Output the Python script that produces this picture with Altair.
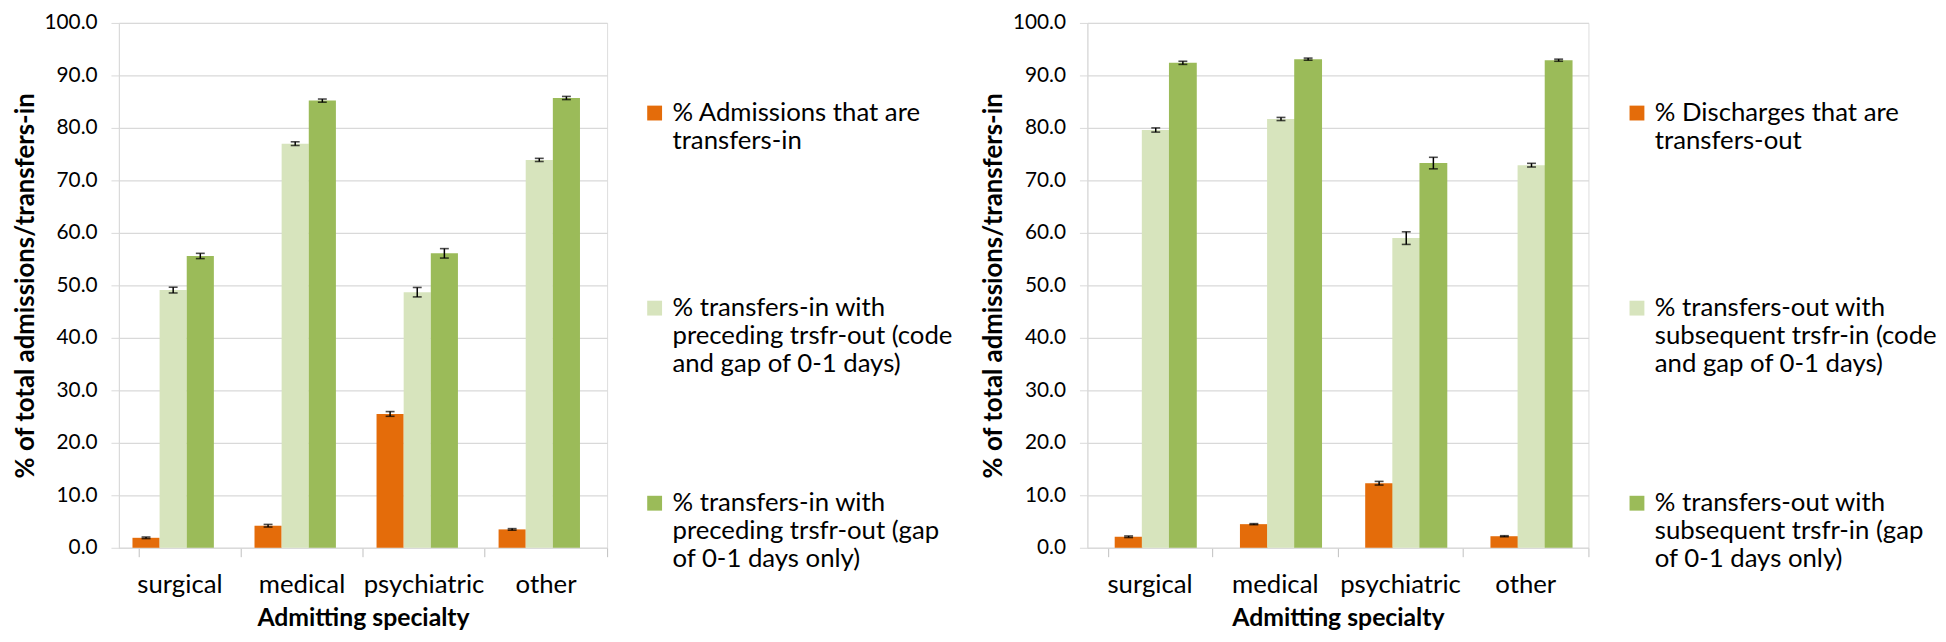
import altair as alt
import pandas as pd

categories = ["surgical", "medical", "psychiatric", "other"]

left_series = [
    "% Admissions that are|transfers-in| ",
    "% transfers-in with|preceding trsfr-out (code|and gap of 0-1 days)",
    "% transfers-in with|preceding trsfr-out (gap|of 0-1 days only)",
]
left_values = [
    [1.9, 4.2, 25.5, 3.5],
    [49.1, 77.0, 48.7, 73.9],
    [55.6, 85.2, 56.1, 85.7],
]
left_errors = [
    [0.15, 0.25, 0.45, 0.15],
    [0.55, 0.35, 0.9, 0.3],
    [0.5, 0.3, 0.9, 0.3],
]

right_series = [
    "% Discharges that are|transfers-out| ",
    "% transfers-out with|subsequent trsfr-in (code|and gap of 0-1 days)",
    "% transfers-out with|subsequent trsfr-in (gap|of 0-1 days only)",
]
right_values = [
    [2.1, 4.5, 12.3, 2.2],
    [79.6, 81.7, 59.0, 72.9],
    [92.4, 93.1, 73.3, 92.9],
]
right_errors = [
    [0.15, 0.1, 0.35, 0.1],
    [0.4, 0.3, 1.2, 0.35],
    [0.3, 0.2, 1.1, 0.2],
]

colors = ["#E46C0A", "#D7E4BD", "#9BBB59"]
y_ticks = [0, 10, 20, 30, 40, 50, 60, 70, 80, 90, 100]
y_title = "% of total admissions/transfers-in"
x_title = "Admitting specialty"
FONT = "Lato"
GRID = "#D9D9D9"


def panel(series, values, errors, width, height, bar_width, legend_x, legend_y):
    rows = []
    for s, vals, errs in zip(series, values, errors):
        for c, v, e in zip(categories, vals, errs):
            rows.append({"category": c, "series": s, "value": v, "lo": v - e, "hi": v + e})
    df = pd.DataFrame(rows)

    x = alt.X(
        "category:N",
        sort=categories,
        scale=alt.Scale(type="band", paddingInner=0.333, paddingOuter=0.1667),
        axis=alt.Axis(
            title=x_title,
            labelAngle=0,
            labelFontSize=26,
            labelFont=FONT,
            labelColor="#000000",
            labelPadding=15,
            titleFontSize=25,
            titleFont=FONT,
            titleFontWeight="bold",
            titleColor="#000000",
            titlePadding=9,
            domainColor=GRID,
            tickColor="#BFBFBF",
            tickSize=9,
            bandPosition=1.25,
            tickExtra=True,
            grid=False,
        ),
    )
    xo = alt.XOffset(
        "series:N", sort=series, scale=alt.Scale(type="band", paddingInner=0, paddingOuter=0)
    )
    y_scale = alt.Scale(domain=[0, 100], nice=False, padding=0, zero=True)
    y_axis = alt.Axis(
        values=y_ticks,
        format=".1f",
        labelFontSize=21,
        labelFont=FONT,
        labelColor="#000000",
        labelPadding=14,
        title=y_title,
        titleFontSize=26,
        titleFont=FONT,
        titleFontWeight="bold",
        titleColor="#000000",
        titlePadding=6,
        grid=True,
        gridColor=GRID,
        gridWidth=1.2,
        domainColor=GRID,
        tickColor=GRID,
        tickSize=8,
    )

    bars = alt.Chart(df).mark_bar(width=bar_width).encode(
        x=x,
        xOffset=xo,
        y=alt.Y("value:Q", scale=y_scale, axis=y_axis),
        color=alt.Color(
            "series:N",
            sort=series,
            scale=alt.Scale(domain=series, range=colors),
            legend=alt.Legend(
                title=None,
                orient="none",
                legendX=legend_x,
                legendY=legend_y,
                direction="vertical",
                symbolType="square",
                symbolSize=225,
                symbolStrokeWidth=0,
                labelFont=FONT,
                labelFontSize=26,
                labelColor="#000000",
                labelLimit=292,
                labelOffset=5,
                labelBaseline="middle",
                rowPadding=115,
                padding=0,
                labelExpr="split(datum.label, '|')",
            ),
        ),
    )
    stems = alt.Chart(df).mark_rule(color="#000000", strokeWidth=1.5).encode(
        x=x,
        xOffset=xo,
        y=alt.Y("lo:Q", scale=y_scale, axis=y_axis),
        y2="hi:Q",
    )
    caps_lo = alt.Chart(df).mark_tick(color="#000000", thickness=1.6, size=9).encode(
        x=x, xOffset=xo, y=alt.Y("lo:Q", scale=y_scale, axis=y_axis)
    )
    caps_hi = alt.Chart(df).mark_tick(color="#000000", thickness=1.6, size=9).encode(
        x=x, xOffset=xo, y=alt.Y("hi:Q", scale=y_scale, axis=y_axis)
    )
    return alt.layer(bars, stems, caps_lo, caps_hi).properties(width=width, height=height)


left = panel(left_series, left_values, left_errors, 493, 530, 27.4, 528, 78)
right = panel(right_series, right_values, right_errors, 506, 530, 28.1, 542, 78)

chart = (
    alt.hconcat(left, right, spacing=26)
    .resolve_scale(color="independent")
    .properties(padding={"left": 3, "top": 0, "right": 0, "bottom": 0})
    .configure_view(stroke=None)
    .configure_scale(
        bandWithNestedOffsetPaddingInner=0.333,
        bandWithNestedOffsetPaddingOuter=0.1667,
        offsetBandPaddingInner=0,
        offsetBandPaddingOuter=0,
    )
    .configure(font=FONT)
)

chart.save("out.html", embed_options={"renderer": "svg", "actions": False})
